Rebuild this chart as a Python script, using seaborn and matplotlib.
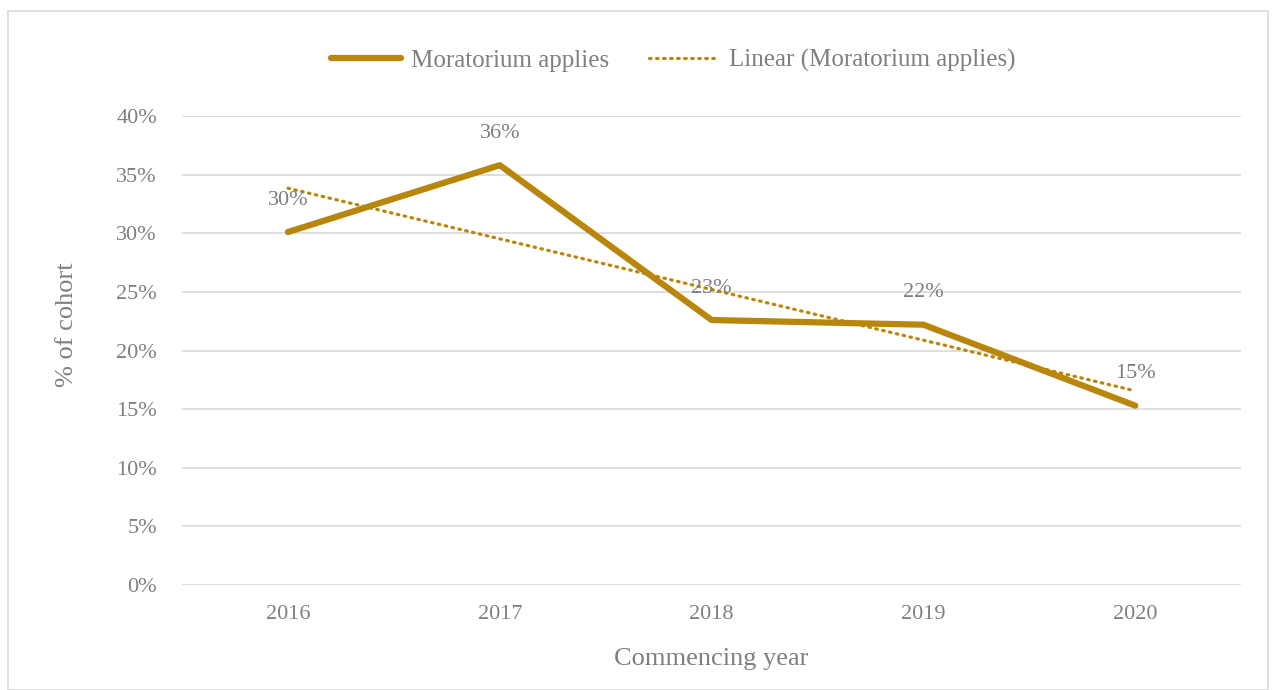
import numpy as np
import pandas as pd
import seaborn as sns
import matplotlib.pyplot as plt
from matplotlib.patches import Rectangle

years = ["2016", "2017", "2018", "2019", "2020"]
moratorium = [30.1, 35.8, 22.6, 22.2, 15.3]
labels = ["30%", "36%", "23%", "22%", "15%"]
yticks = [0, 5, 10, 15, 20, 25, 30, 35, 40]

gold = "#B8860B"
grey = "#7f7f7f"

sns.set_style("white")
plt.rcParams["font.family"] = ["Liberation Serif", "DejaVu Serif"]

df = pd.DataFrame({"year": years, "pct": moratorium})
df["x"] = np.arange(len(years))

# linear trend, as Excel's "Linear" trendline
coef = np.polyfit(df["x"], df["pct"], 1)
df["trend"] = np.polyval(coef, df["x"])

fig = plt.figure(figsize=(12.73, 6.90), dpi=100)
ax = fig.add_axes([0.143, 0.152, 0.832, 0.680])

sns.lineplot(data=df, x="x", y="pct", color=gold, lw=4.5, ax=ax,
             label="Moratorium applies", solid_capstyle="round")
sns.lineplot(data=df, x="x", y="trend", color=gold, lw=2.3, ax=ax,
             linestyle=(0, (0.5, 1.7)), dash_capstyle="round",
             label="Linear (Moratorium applies)")

for xi, yi, lab in zip(df["x"], df["pct"], labels):
    ax.annotate(lab, (xi, yi), xytext=(0, 23), textcoords="offset points",
                ha="center", va="center", fontsize=16, color=grey)

ax.set_xlim(-0.5, len(years) - 0.5)
ax.set_ylim(0, 40)
ax.set_xticks(df["x"])
ax.set_xticklabels(years)
ax.set_yticks(yticks)
ax.set_yticklabels([f"{t}%" for t in yticks])
ax.tick_params(axis="both", colors=grey, labelsize=16, length=0)
ax.tick_params(axis="y", pad=18)
ax.tick_params(axis="x", pad=14)
ax.yaxis.grid(True, color="#d9d9d9", lw=1.2)
ax.xaxis.grid(False)
for s in ax.spines.values():
    s.set_visible(False)
ax.set_xlabel("Commencing year", fontsize=19, color=grey)
ax.xaxis.set_label_coords(0.5, -0.133)
ax.set_ylabel("% of cohort", fontsize=19, color=grey)
ax.yaxis.set_label_coords(-0.098, 0.554)

leg = ax.legend(loc="center", ncol=2, frameon=False, fontsize=18,
                handlelength=2.8, handletextpad=0.4, columnspacing=1.6,
                labelcolor=grey)
leg.set_bbox_to_anchor((0.529, 0.912), transform=fig.transFigure)

fig.patches.append(Rectangle((0.006, 0.0), 0.99, 0.984, transform=fig.transFigure,
                             fill=False, edgecolor="#d9d9d9", lw=1.2))

fig.savefig("out.png", dpi=100)
